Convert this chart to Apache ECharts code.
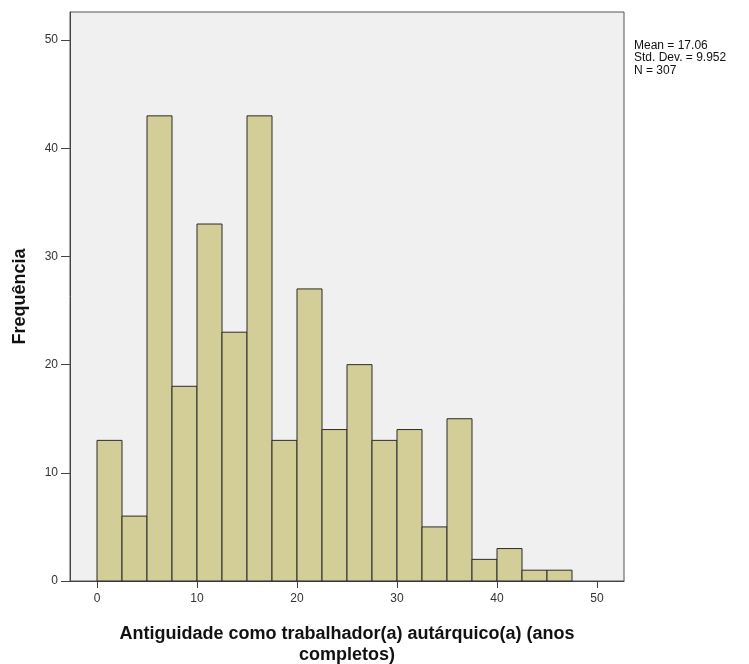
<!DOCTYPE html>
<html>
<head>
<meta charset="utf-8">
<script src="https://cdn.jsdelivr.net/npm/echarts@6/dist/echarts.min.js"></script>
<style>
html, body { margin: 0; padding: 0; background: #fff; }
#chart { width: 749px; height: 664px; }
</style>
</head>
<body>
<div id="chart"></div>
<script>
// bin edges (years), width 2.5
var binStarts = [0, 2.5, 5, 7.5, 10, 12.5, 15, 17.5, 20, 22.5, 25, 27.5, 30, 32.5, 35, 37.5, 40, 42.5, 45];
var binEnds = [2.5, 5, 7.5, 10, 12.5, 15, 17.5, 20, 22.5, 25, 27.5, 30, 32.5, 35, 37.5, 40, 42.5, 45, 47.5];
var counts = [13, 6, 43, 18, 33, 23, 43, 13, 27, 14, 20, 13, 14, 5, 15, 2, 3, 1, 1];
var xTicks = [0, 10, 20, 30, 40, 50];
var yTicks = [0, 10, 20, 30, 40, 50];
var statsLines = ['Mean = 17.06', 'Std. Dev. = 9.952', 'N = 307'];

var chart = echarts.init(document.getElementById('chart'));

var data = binStarts.map(function (s, i) { return [s, binEnds[i], counts[i]]; });

var option = {
    animation: false,
    textStyle: { fontFamily: 'Liberation Sans, Arial, sans-serif' },
    grid: {
        left: 70, right: 125, top: 12, bottom: 83,
        outerBoundsMode: 'none',
        containLabel: false,
        show: true,
        backgroundColor: '#F0F0F0',
        borderColor: '#555',
        borderWidth: 1
    },
    xAxis: {
        type: 'value',
        min: -2.7,
        max: 52.7,
        name: 'Antiguidade como trabalhador(a) autárquico(a) (anos\ncompletos)',
        nameLocation: 'middle',
        nameGap: 43,
        nameTextStyle: { fontSize: 18, fontWeight: 'bold', color: '#111', lineHeight: 21 },
        splitLine: { show: false },
        axisLine: { lineStyle: { color: '#444' } },
        axisTick: { show: true, length: 7, customValues: xTicks, lineStyle: { color: '#444' } },
        axisLabel: { customValues: xTicks, fontSize: 12, color: '#333', margin: 12 }
    },
    yAxis: {
        type: 'value',
        min: 0,
        max: 52.6,
        name: 'Frequência',
        nameLocation: 'middle',
        nameGap: 41,
        nameTextStyle: { fontSize: 18, fontWeight: 'bold', color: '#111' },
        splitLine: { show: false },
        axisLine: { show: true, onZero: false, lineStyle: { color: '#444' } },
        axisTick: { show: true, length: 9, customValues: yTicks, lineStyle: { color: '#444' } },
        axisLabel: { customValues: yTicks, fontSize: 12, color: '#333', margin: 12 }
    },
    graphic: [{
        type: 'text',
        left: 634,
        top: 39,
        style: {
            text: statsLines.join('\n'),
            fontSize: 12,
            lineHeight: 12.5,
            fill: '#111',
            fontFamily: 'Liberation Sans, Arial, sans-serif'
        }
    }],
    series: [{
        type: 'custom',
        data: data,
        encode: { x: [0, 1], y: 2 },
        renderItem: function (params, api) {
            var p0 = api.coord([api.value(0), api.value(2)]);
            var p1 = api.coord([api.value(1), 0]);
            return {
                type: 'rect',
                shape: { x: p0[0], y: p0[1], width: p1[0] - p0[0], height: p1[1] - p0[1] },
                style: { fill: '#D3CE97', stroke: '#2b2b2b', lineWidth: 1 }
            };
        }
    }]
};

chart.setOption(option);
</script>
</body>
</html>
